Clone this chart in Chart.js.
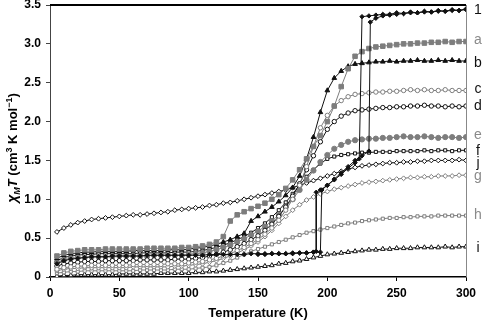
<!DOCTYPE html>
<html><head><meta charset="utf-8">
<script src="https://cdn.jsdelivr.net/npm/chart.js@4/dist/chart.umd.min.js"></script>
<style>html,body{margin:0;padding:0;background:#fff}</style>
</head><body>
<canvas id="c" width="485" height="322"></canvas>
<script>
// Temperatures (K)
const T = [5,10,15,20,25,30,35,40,45,50,55,60,65,70,75,80,85,90,95,100,105,110,115,120,125,130,135,140,145,150,155,160,165,170,175,180,185,190,195,200,205,210,215,220,225,230,235,240,245,250,255,260,265,270,275,280,285,290,295,300];

// chi_M T values (cm3 K mol-1)
const sA = [0.27,0.31,0.33,0.34,0.35,0.35,0.35,0.36,0.36,0.36,0.36,0.36,0.36,0.37,0.37,0.37,0.37,0.37,0.38,0.38,0.39,0.40,0.42,0.45,0.52,0.72,0.80,0.84,0.88,0.91,0.95,1.00,1.06,1.14,1.25,1.38,1.52,1.68,1.82,2.00,2.20,2.45,2.68,2.84,2.90,2.94,2.96,2.97,2.98,2.99,3.00,3.00,3.01,3.01,3.02,3.02,3.03,3.02,3.03,3.03];
const sB = [0.24,0.28,0.30,0.31,0.32,0.32,0.33,0.33,0.33,0.33,0.33,0.34,0.34,0.34,0.34,0.34,0.35,0.35,0.35,0.36,0.37,0.38,0.40,0.42,0.45,0.48,0.52,0.56,0.72,0.78,0.84,0.90,0.97,1.05,1.15,1.30,1.52,1.80,2.12,2.40,2.56,2.65,2.71,2.74,2.75,2.76,2.77,2.77,2.78,2.77,2.78,2.78,2.79,2.78,2.78,2.79,2.78,2.79,2.78,2.78];
const sC = [0.10,0.12,0.13,0.14,0.14,0.15,0.15,0.15,0.15,0.15,0.15,0.16,0.16,0.16,0.16,0.16,0.17,0.17,0.17,0.18,0.19,0.20,0.22,0.24,0.27,0.30,0.34,0.38,0.43,0.48,0.55,0.63,0.73,0.86,1.00,1.18,1.42,1.68,1.92,2.08,2.20,2.27,2.32,2.35,2.36,2.37,2.38,2.38,2.39,2.39,2.40,2.41,2.40,2.41,2.40,2.40,2.41,2.40,2.40,2.40];
const sD = [0.14,0.17,0.18,0.19,0.20,0.20,0.20,0.21,0.21,0.21,0.21,0.21,0.22,0.22,0.22,0.22,0.22,0.23,0.23,0.23,0.24,0.25,0.27,0.29,0.32,0.35,0.39,0.43,0.48,0.53,0.60,0.68,0.78,0.90,1.04,1.20,1.38,1.56,1.74,1.90,2.00,2.07,2.11,2.14,2.15,2.16,2.17,2.18,2.18,2.19,2.19,2.20,2.20,2.21,2.20,2.20,2.19,2.20,2.19,2.20];
const sE = [0.19,0.22,0.24,0.25,0.25,0.26,0.26,0.26,0.26,0.27,0.27,0.27,0.27,0.27,0.28,0.28,0.28,0.28,0.28,0.29,0.30,0.31,0.33,0.35,0.38,0.41,0.45,0.49,0.54,0.59,0.65,0.72,0.80,0.90,1.00,1.12,1.25,1.37,1.48,1.57,1.65,1.70,1.74,1.76,1.77,1.78,1.78,1.79,1.79,1.80,1.81,1.80,1.80,1.81,1.80,1.79,1.80,1.80,1.79,1.80];
const sF = [0.21,0.25,0.27,0.28,0.29,0.29,0.30,0.30,0.30,0.30,0.30,0.30,0.31,0.31,0.31,0.31,0.31,0.32,0.32,0.32,0.33,0.34,0.36,0.38,0.41,0.44,0.48,0.52,0.57,0.63,0.69,0.77,0.86,0.96,1.07,1.18,1.29,1.38,1.46,1.52,1.55,1.57,1.58,1.59,1.60,1.60,1.61,1.61,1.61,1.62,1.62,1.62,1.62,1.63,1.62,1.63,1.63,1.62,1.63,1.63];
const sJ = [0.58,0.63,0.67,0.70,0.72,0.74,0.75,0.76,0.77,0.78,0.79,0.80,0.80,0.81,0.82,0.83,0.84,0.86,0.87,0.88,0.89,0.90,0.92,0.93,0.95,0.96,0.98,1.00,1.02,1.04,1.06,1.08,1.10,1.12,1.15,1.18,1.21,1.24,1.27,1.30,1.33,1.36,1.39,1.41,1.43,1.44,1.45,1.46,1.47,1.47,1.48,1.48,1.49,1.49,1.50,1.50,1.50,1.50,1.51,1.50];
const sG = [0.08,0.10,0.11,0.11,0.12,0.12,0.12,0.12,0.12,0.12,0.12,0.13,0.13,0.13,0.13,0.13,0.13,0.14,0.14,0.15,0.16,0.17,0.19,0.21,0.24,0.27,0.31,0.35,0.40,0.45,0.52,0.60,0.69,0.78,0.86,0.93,0.99,1.03,1.07,1.10,1.13,1.15,1.17,1.19,1.21,1.22,1.23,1.24,1.25,1.26,1.27,1.28,1.28,1.29,1.29,1.30,1.30,1.30,1.31,1.31];
const sH = [0.05,0.06,0.07,0.07,0.08,0.08,0.08,0.08,0.08,0.08,0.08,0.08,0.09,0.09,0.09,0.09,0.09,0.10,0.10,0.10,0.11,0.12,0.13,0.15,0.18,0.21,0.25,0.29,0.33,0.36,0.39,0.42,0.45,0.48,0.51,0.54,0.57,0.59,0.61,0.63,0.65,0.67,0.69,0.70,0.72,0.73,0.74,0.75,0.76,0.76,0.77,0.77,0.78,0.78,0.78,0.79,0.79,0.79,0.79,0.79];
const sI = [0.01,0.02,0.02,0.03,0.03,0.03,0.03,0.03,0.03,0.04,0.04,0.04,0.04,0.04,0.04,0.05,0.05,0.05,0.05,0.05,0.06,0.06,0.07,0.07,0.08,0.09,0.10,0.11,0.12,0.13,0.14,0.15,0.17,0.18,0.20,0.21,0.23,0.25,0.27,0.29,0.30,0.31,0.32,0.33,0.34,0.35,0.35,0.36,0.36,0.37,0.37,0.37,0.38,0.38,0.38,0.38,0.39,0.38,0.39,0.39];

// Compound 1: heating and cooling branches (hysteresis)
const heatT = [5,10,15,20,25,30,35,40,45,50,55,60,65,70,75,80,85,90,95,100,105,110,115,120,125,130,135,140,145,150,155,160,165,170,175,180,185,190,195,196,200,205,210,215,220,225,230,231,235,240,245,250,255,260,265,270,275,280,285,290,295,300];
const heat1 = [0.17,0.21,0.23,0.24,0.25,0.26,0.26,0.26,0.27,0.27,0.27,0.27,0.27,0.28,0.28,0.28,0.28,0.28,0.28,0.28,0.28,0.28,0.29,0.29,0.29,0.29,0.29,0.29,0.30,0.30,0.30,0.30,0.30,0.30,0.31,0.31,0.31,0.32,0.32,1.12,1.18,1.26,1.34,1.42,1.50,1.56,1.62,3.28,3.33,3.36,3.37,3.38,3.39,3.40,3.40,3.41,3.41,3.42,3.42,3.43,3.43,3.44];
const coolT = [300,295,290,285,280,275,270,265,260,255,250,245,240,235,230,225,223,220,215,210,205,200,195,192,192,190,185,180,175,170,165,160,155,150];
const cool1 = [3.45,3.43,3.44,3.42,3.43,3.41,3.42,3.40,3.41,3.39,3.40,3.38,3.38,3.37,3.36,3.35,1.52,1.47,1.40,1.32,1.25,1.18,1.12,1.09,0.33,0.32,0.31,0.31,0.30,0.30,0.30,0.30,0.29,0.29];

// Right-hand curve labels
const labelNames = ['1','a','b','c','d','e','f','j','g','h','i'];
const labelY = [3.44,3.05,2.75,2.42,2.20,1.83,1.62,1.47,1.30,0.80,0.37];
const labelGray = [false,true,false,false,false,true,false,false,true,true,false];

const BLK = '#111111', GRY = '#7d7d7d';
function pts(xs, ys){ return xs.map((x,i)=>({x:x, y:ys[i]})); }
function ds(xs, ys, color, style, r, filled){
  return {data: pts(xs, ys), showLine:true, borderColor:color, borderWidth:1,
    pointStyle:style, pointRadius:r, pointBorderWidth:1,
    pointBorderColor:color, pointBackgroundColor: filled ? color : '#ffffff',
    backgroundColor: color, tension:0};
}

const labelPlugin = {
  id:'extras',
  afterDraw(chart){
    const ctx = chart.ctx, a = chart.chartArea, ys = chart.scales.y;
    ctx.save();
    // top and right frame
    ctx.strokeStyle = '#000'; ctx.lineWidth = 2;
    ctx.beginPath(); ctx.moveTo(a.left, a.top); ctx.lineTo(a.right, a.top); ctx.stroke();
    ctx.strokeStyle = '#888'; ctx.lineWidth = 1;
    ctx.beginPath(); ctx.moveTo(a.right+0.5, a.top); ctx.lineTo(a.right+0.5, a.bottom); ctx.stroke();
    // curve labels
    ctx.font = '14px "Liberation Sans", Arial, sans-serif';
    ctx.textAlign = 'center'; ctx.textBaseline = 'middle';
    labelNames.forEach((n,i)=>{
      ctx.fillStyle = labelGray[i] ? '#8a8a8a' : '#111';
      ctx.fillText(n, a.right + 12, ys.getPixelForValue(labelY[i]));
    });
    // x title
    ctx.fillStyle = '#000';
    ctx.font = 'bold 13px "Liberation Sans", Arial, sans-serif';
    ctx.textBaseline = 'alphabetic';
    ctx.fillText('Temperature (K)', (a.left + a.right)/2, 317);
    // y title
    const parts = [
      {t:'χ', f:'italic bold 14px', dy:0},
      {t:'M', f:'italic bold 9px', dy:3},
      {t:'T', f:'italic bold 13px', dy:0},
      {t:' (cm', f:'bold 13px', dy:0},
      {t:'3', f:'bold 9px', dy:-5},
      {t:' K mol', f:'bold 13px', dy:0},
      {t:'−1', f:'bold 9px', dy:-5},
      {t:')', f:'bold 13px', dy:0}
    ];
    const fam = ' "Liberation Sans", Arial, sans-serif';
    let w = 0;
    parts.forEach(p=>{ ctx.font = p.f + fam; p.w = ctx.measureText(p.t).width; w += p.w; });
    ctx.translate(17, 148);
    ctx.rotate(-Math.PI/2);
    ctx.textAlign = 'left';
    let x = -w/2;
    parts.forEach(p=>{ ctx.font = p.f + fam; ctx.fillText(p.t, x, p.dy); x += p.w; });
    ctx.restore();
  }
};

const tickFont = {family:'"Liberation Sans", Arial, sans-serif', weight:'bold', size:12};

new Chart(document.getElementById('c'), {
  type:'scatter',
  data:{datasets:[
    ds(heatT, heat1, BLK, 'rectRot', 2.2, true),
    ds(coolT, cool1, BLK, 'rectRot', 2.2, true),
    ds(T, sA, GRY, 'rect', 3.2, true),
    ds(T, sB, BLK, 'triangle', 2.7, true),
    ds(T, sC, GRY, 'circle', 2.2, false),
    ds(T, sD, BLK, 'circle', 2.2, false),
    ds(T, sE, GRY, 'circle', 2.6, true),
    ds(T, sF, BLK, 'rect', 2.2, false),
    ds(T, sJ, BLK, 'rectRot', 2.4, false),
    ds(T, sG, GRY, 'rectRot', 2.4, false),
    ds(T, sH, GRY, 'rect', 2.2, false),
    ds(T, sI, BLK, 'triangle', 2.7, false)
  ]},
  options:{
    responsive:false, animation:false, devicePixelRatio:1,
    layout:{padding:{left:0, right:19, top:5, bottom:0}},
    plugins:{legend:{display:false}, tooltip:{enabled:false}},
    scales:{
      x:{type:'linear', min:0, max:300,
        ticks:{stepSize:50, color:'#000', font:tickFont, padding:5},
        grid:{display:true, drawOnChartArea:false, drawTicks:true, tickLength:4, color:'#000', lineWidth:1},
        border:{display:true, color:'#000', width:1.5},
        afterFit(s){ s.height = 45; s.paddingLeft = 0; s.paddingRight = 0; }},
      y:{type:'linear', min:0, max:3.5,
        ticks:{stepSize:0.5, color:'#000', font:tickFont, padding:5},
        grid:{display:true, drawOnChartArea:false, drawTicks:true, tickLength:4, color:'#444', lineWidth:1},
        border:{display:true, color:'#444', width:1},
        afterFit(s){ s.width = 50; s.paddingTop = 0; s.paddingBottom = 0; }}
    }
  },
  plugins:[labelPlugin]
});
</script>
</body></html>
